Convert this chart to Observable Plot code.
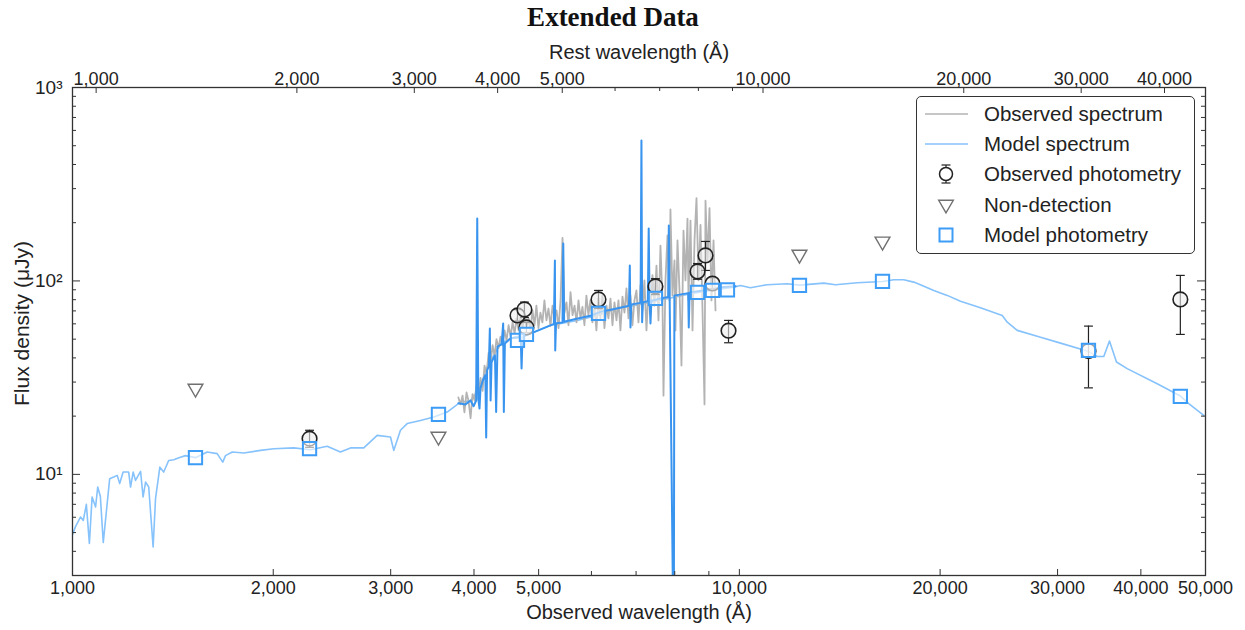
<!DOCTYPE html>
<html><head><meta charset="utf-8">
<script src="https://cdn.jsdelivr.net/npm/d3@7"></script>
<script src="https://cdn.jsdelivr.net/npm/@observablehq/plot@0.6"></script>
<style>
body{margin:0;background:#fff;font-family:"Liberation Sans",Arial,Helvetica,sans-serif;}
#wrap{position:relative;width:1245px;height:630px;overflow:hidden;}
#title{position:absolute;top:2px;left:613px;transform:translateX(-50%);white-space:nowrap;font-family:"Liberation Serif","Times New Roman",serif;font-weight:bold;font-size:27px;color:#111;}
#chart{position:absolute;left:0;top:0;}
#legend{position:absolute;left:916px;top:96px;width:277px;height:156px;border:1.3px solid #333;border-radius:5px;background:#fff;}
</style></head><body>
<div id="wrap"><div id="chart"></div><div id="title">Extended Data</div><div id="legend"></div></div>
<script>
// ---- data ----
const restFactor = 1.085; // observed / rest wavelength
const xMajor = [1000,2000,3000,4000,5000,10000,20000,30000,40000,50000];
const xMinor = [6000,7000,8000,9000];
const restMajor = [1000,2000,3000,4000,5000,10000,20000,30000,40000];
const restMinor = [6000,7000,8000,9000];
const yMajor = [10,100,1000];
const yMinor = [3,4,5,6,7,8,9,20,30,40,50,60,70,80,90,200,300,400,500,600,700,800,900];
const yLabels = {10:"10¹",100:"10²",1000:"10³"};

const modelWave = [1000,1010,1028,1038,1049,1060,1070,1083,1091,1101,1112,1137,1153,1167,1177,1191,1214,1222,1233,1243,1265,1276,1287,1301,1321,1332,1352,1370,1394,1419,1444,1477,1529,1592,1648,1680,1696,1736,1807,1914,2004,2147,2275,2409,2522,2611,2734,2863,2998,3032,3103,3176,3325,3482,3646,3817,3953,4091,4187,4384,4589,4861,5209,5711,6120,6558,7190,7794,8447,9051,9808,10037,10390,11008,11795,12322,13385,13937,15020,16406,17040,17640,18260,18798,19565,20495,21457,22988,24785,25217,26100,28290,30310,33410,34400,35190,35890,36770,38150,42320,45850,47190,49700];
const modelFlux = [4.88,5.35,6.02,5.78,7.0,4.39,7.64,6.78,8.6,7.69,4.44,9.5,9.68,9.88,8.96,10.28,10.28,8.6,10.28,9.31,10.36,7.64,9.12,8.6,4.21,7.49,10.9,10.28,11.8,11.9,12.2,12.5,12.2,13.04,12.8,11.57,12.5,13.04,12.9,13.3,13.57,13.7,13.4,13.96,13.04,13.7,13.7,15.9,15.6,13.3,16.9,18.3,19.0,19.8,21.0,23.6,24.1,28.3,35.9,47.5,51.2,53.4,58.9,62.5,66.3,71.8,76.2,80.9,85.9,89.3,92.9,94.8,92.2,95.6,96.7,95.1,97.4,95.6,97.9,99.4,101.4,101.4,98.6,94.8,89.3,84.2,78.6,72.7,66.3,61.2,55.5,51.2,47.7,43.2,40.7,40.7,48.9,38.1,35.2,29.4,25.4,23.2,20.2];

const modelHiWave = [3790,3884,3953,3994,4030,4045,4060,4077,4091,4130,4160,4172,4185,4210,4225,4236,4250,4280,4300,4318,4338,4400,4424,4434,4450,4539,4700,4714,4730,4861,5120,5270,5289,5295,5310,5430,5444,5460,5679,5979,6189,6519,6830,6850,6866,6885,7110,7131,7148,7165,7290,7312,7335,7357,7380,7615,7820,7838,7860,7973,7990,8020,8380,8397,8420,8447,8896,9369,9867];
const modelHiFlux = [23.3,23.0,24.1,22.5,24.1,210,24.5,21.9,28.0,31,32.6,15.5,34.5,36.2,56.8,24.1,38,40,41.2,21.0,45.8,47,60.3,21.0,47.5,50.5,51.2,35.3,51.5,53.4,57.5,60,127.6,43.7,60.5,61,156,61.5,63.6,66.0,69.2,71.8,74.5,120,57.5,75.5,77,532,61.2,77.5,78.5,186.7,78.5,60.3,79,81.2,82.5,193.6,83,1,84,84.2,86.5,57.5,87,87.3,89.6,92.8,94.0];

const obsSpecWave = [3790,3817,3845,3870,3898,3925,3953,3980,4008,4036,4064,4091,4120,4148,4177,4207,4236,4265,4294,4323,4353,4384,4414,4445,4476,4507,4539,4570,4602,4634,4667,4698,4731,4763,4797,4830,4861,4895,4929,4962,4997,5031,5066,5101,5137,5173,5209,5246,5282,5319,5356,5393,5430,5467,5505,5543,5582,5621,5660,5699,5738,5777,5817,5857,5897,5938,5979,6020,6062,6104,6146,6189,6232,6276,6320,6363,6408,6452,6497,6542,6587,6632,6679,6725,6772,6819,6866,6913,6961,7009,7058,7107,7156,7205,7256,7306,7357,7408,7459,7511,7563,7615,7668,7695,7748,7802,7856,7882,7937,7993,8020,8076,8132,8188,8245,8302,8360,8389,8447,8506,8565,8624,8684,8744,8805,8866,8896,8958,9020,9082,9146,9209];
const obsSpecFlux = [25.0,23.0,25.5,20.9,26.5,24.0,19.5,26.0,24.1,29.0,25.5,31.5,27.0,36.5,33.0,42.5,37.5,46.5,41.0,50.0,45.0,51.5,46.5,55.5,49.3,59.0,51.5,61.0,53.5,64.0,55.5,66.5,57.0,68.5,58.5,64.0,55.5,70.4,59.0,74.5,57.0,68.5,61.0,79.3,62.5,72.0,58.5,74.5,64.0,70.4,57.0,79.3,167,68.5,77.5,59.0,87.5,66.5,74.5,61.0,79.3,64.0,73.5,59.0,84.0,66.5,79.3,61.0,74.5,55.5,81.0,64.0,84.0,57.0,74.5,64.0,81.0,59.0,77.5,62.5,79.3,55.5,83.0,68.5,91.5,64.0,84.0,59.0,79.3,89.3,61.0,95.0,70.4,100.6,55.5,89.3,66.5,107,74.5,120,62.5,152,79.3,25.5,100.6,172,79.3,234,84,127.6,55.5,162,89.3,36.5,182,100.6,210,79.3,205,55.5,162,268,100.6,195,70.4,23.0,260,127.6,238,79.3,162,70.4];

const photWave = [2267,4648,4761,4794,6148,7484,8654,8896,9113,9632,33380,45840];
const photFlux = [15.3,66.3,71.2,57.5,80.2,93.7,112,135.4,97,55.3,43.4,80.2];
const photLo   = [13.8,62,64.7,54,72,85,102,113.3,91,47.9,28.0,52.9];
const photHi   = [16.9,71,77.7,61,89.3,102.7,123,160,104,62.5,58.4,106.8];

const ulWave = [1529,3538,12306,16392];
const ulFlux = [27.8,15.7,137,160];

const mphotWave = [1529,2267,3538,4648,4794,6148,7484,8654,9113,9597,12306,16392,33380,45840];
const mphotFlux = [12.2,13.6,20.4,49.3,52.9,67.9,81.2,87.2,89.3,90,94.8,99.4,43.8,25.3];

// ---- tables ----
const pair = (ws, fs) => ws.slice(0, Math.min(ws.length, fs.length)).map((w,i)=>({w, f: fs[i]}));
const model = pair(modelWave, modelFlux);
const modelHi = pair(modelHiWave, modelHiFlux);
const obsSpec = pair(obsSpecWave, obsSpecFlux);
const phot = photWave.map((w,i)=>({w, f: photFlux[i], lo: photLo[i], hi: photHi[i]}));
const ul = pair(ulWave, ulFlux);
const mphot = pair(mphotWave, mphotFlux);

// ---- colours / styles ----
const cGray = "#b3b3b3", cModel = "#86c2fb", cModelHi = "#3894ef", cSq = "#3d9cf5", cAxis = "#333";
const capSymbol = {draw(ctx, size){ const w = Math.sqrt(size)/2; ctx.moveTo(-w,0); ctx.lineTo(w,0); }};

const W=1245, H=630, mL=72, mR=40, mT=87, mB=55;
const pw = W-mL-mR, ph = H-mT-mB;
const fmt = d3.format(",");

const chart = Plot.plot({
  width: W, height: H, marginLeft: mL, marginRight: mR, marginTop: mT, marginBottom: mB,
  x: {type: "log", domain: [1000, 50000], axis: null, label: null},
  y: {type: "log", domain: [3, 1000], axis: null, label: null},
  style: {fontFamily: '"Liberation Sans", Arial, Helvetica, sans-serif', fontSize: "18px", color: "#222", background: "transparent", overflow: "visible"},
  marks: [
    Plot.line(model, {x: "w", y: "f", stroke: cModel, strokeWidth: 1.6, clip: true}),
    Plot.line(obsSpec, {x: "w", y: "f", stroke: cGray, strokeWidth: 1.8, clip: true}),
    Plot.line(modelHi, {x: "w", y: "f", stroke: cModelHi, strokeWidth: 2, clip: true}),
    Plot.dot(ul, {x: "w", y: "f", symbol: "triangle", rotate: 180, r: 5.5, stroke: "#707070", strokeWidth: 1.4, fill: "white"}),
    Plot.ruleX(phot, {x: "w", y1: "lo", y2: "hi", stroke: "#222", strokeWidth: 1.2}),
    Plot.dot(phot, {x: "w", y: "lo", symbol: capSymbol, r: 5, stroke: "#222", strokeWidth: 1.2}),
    Plot.dot(phot, {x: "w", y: "hi", symbol: capSymbol, r: 5, stroke: "#222", strokeWidth: 1.2}),
    Plot.dot(phot, {x: "w", y: "f", r: 7.3, stroke: "#222", strokeWidth: 1.6, fill: "#eeeeee", fillOpacity: 0.6}),
    Plot.dot(mphot, {x: "w", y: "f", symbol: "square", r: 7.5, stroke: cSq, strokeWidth: 2, fill: "white", fillOpacity: 0.6}),
    Plot.frame({stroke: cAxis, strokeWidth: 1.3}),
    // inward ticks
    Plot.tickX(xMajor, {x: d => d, insetTop: ph - 6, stroke: cAxis}),
    Plot.tickX(xMinor, {x: d => d, insetTop: ph - 4, stroke: cAxis}),
    Plot.tickX(restMajor.map(d => d*restFactor), {x: d => d, insetBottom: ph - 6, stroke: cAxis}),
    Plot.tickX(restMinor.map(d => d*restFactor), {x: d => d, insetBottom: ph - 4, stroke: cAxis}),
    Plot.tickY(yMajor, {y: d => d, insetRight: pw - 8, stroke: cAxis}),
    Plot.tickY(yMinor, {y: d => d, insetRight: pw - 4, stroke: cAxis}),
    Plot.tickY(yMajor, {y: d => d, insetLeft: pw - 8, stroke: cAxis}),
    Plot.tickY(yMinor, {y: d => d, insetLeft: pw - 4, stroke: cAxis}),
    // tick labels
    Plot.axisX(xMajor, {anchor: "bottom", label: null, tickSize: 0, tickPadding: 6, tickFormat: fmt, fontSize: 18}),
    Plot.axisX(restMajor.map(d => d*restFactor), {anchor: "top", label: null, tickSize: 0, tickPadding: 3, tickFormat: d => fmt(Math.round(d/restFactor)), fontSize: 18}),
    Plot.axisY(yMajor, {anchor: "left", label: null, tickSize: 0, tickPadding: 10, tickFormat: d => yLabels[d], fontSize: 19}),
    // axis titles
    Plot.text(["Observed wavelength (Å)"], {text: d => d, frameAnchor: "bottom", lineAnchor: "middle", dy: 37, fontSize: 20}),
    Plot.text(["Rest wavelength (Å)"], {text: d => d, frameAnchor: "top", lineAnchor: "middle", dy: -35, fontSize: 20}),
    Plot.text(["Flux density (μJy)"], {text: d => d, frameAnchor: "left", textAnchor: "middle", lineAnchor: "middle", dx: -50, dy: -8, rotate: -90, fontSize: 21})
  ]
});
document.getElementById("chart").appendChild(chart);

// ---- legend ----
const legendItems = ["Observed spectrum","Model spectrum","Observed photometry","Non-detection","Model photometry"];
const rowY = [17, 47, 77, 107.5, 138];
const lg = d3.select("#legend").append("svg").attr("width", 277).attr("height", 156)
  .style("font-family", '"Liberation Sans", Arial, Helvetica, sans-serif');
legendItems.forEach((t, i) => {
  lg.append("text").attr("x", 67).attr("y", rowY[i]).attr("dy", "0.35em")
    .attr("font-size", 20.5).attr("fill", "#222").text(t);
});
lg.append("line").attr("x1", 8).attr("x2", 51).attr("y1", rowY[0]).attr("y2", rowY[0]).attr("stroke", cGray).attr("stroke-width", 1.5);
lg.append("line").attr("x1", 8).attr("x2", 51).attr("y1", rowY[1]).attr("y2", rowY[1]).attr("stroke", cModel).attr("stroke-width", 1.6);
const cx = 29, cy = rowY[2];
lg.append("line").attr("x1", cx).attr("x2", cx).attr("y1", cy-9).attr("y2", cy+9).attr("stroke", "#222").attr("stroke-width", 1.2);
lg.append("line").attr("x1", cx-4.5).attr("x2", cx+4.5).attr("y1", cy-9).attr("y2", cy-9).attr("stroke", "#222").attr("stroke-width", 1.2);
lg.append("line").attr("x1", cx-4.5).attr("x2", cx+4.5).attr("y1", cy+9).attr("y2", cy+9).attr("stroke", "#222").attr("stroke-width", 1.2);
lg.append("circle").attr("cx", cx).attr("cy", cy).attr("r", 6.5).attr("fill", "white").attr("stroke", "#222").attr("stroke-width", 1.5);
lg.append("path").attr("d", d3.symbol(d3.symbolTriangle, 93)()).attr("transform", `translate(${cx},${rowY[3]}) rotate(180)`)
  .attr("fill", "white").attr("stroke", "#707070").attr("stroke-width", 1.4);
lg.append("rect").attr("x", cx-6.5).attr("y", rowY[4]-6.5).attr("width", 13).attr("height", 13)
  .attr("fill", "white").attr("stroke", cSq).attr("stroke-width", 2);
</script>
</body></html>
